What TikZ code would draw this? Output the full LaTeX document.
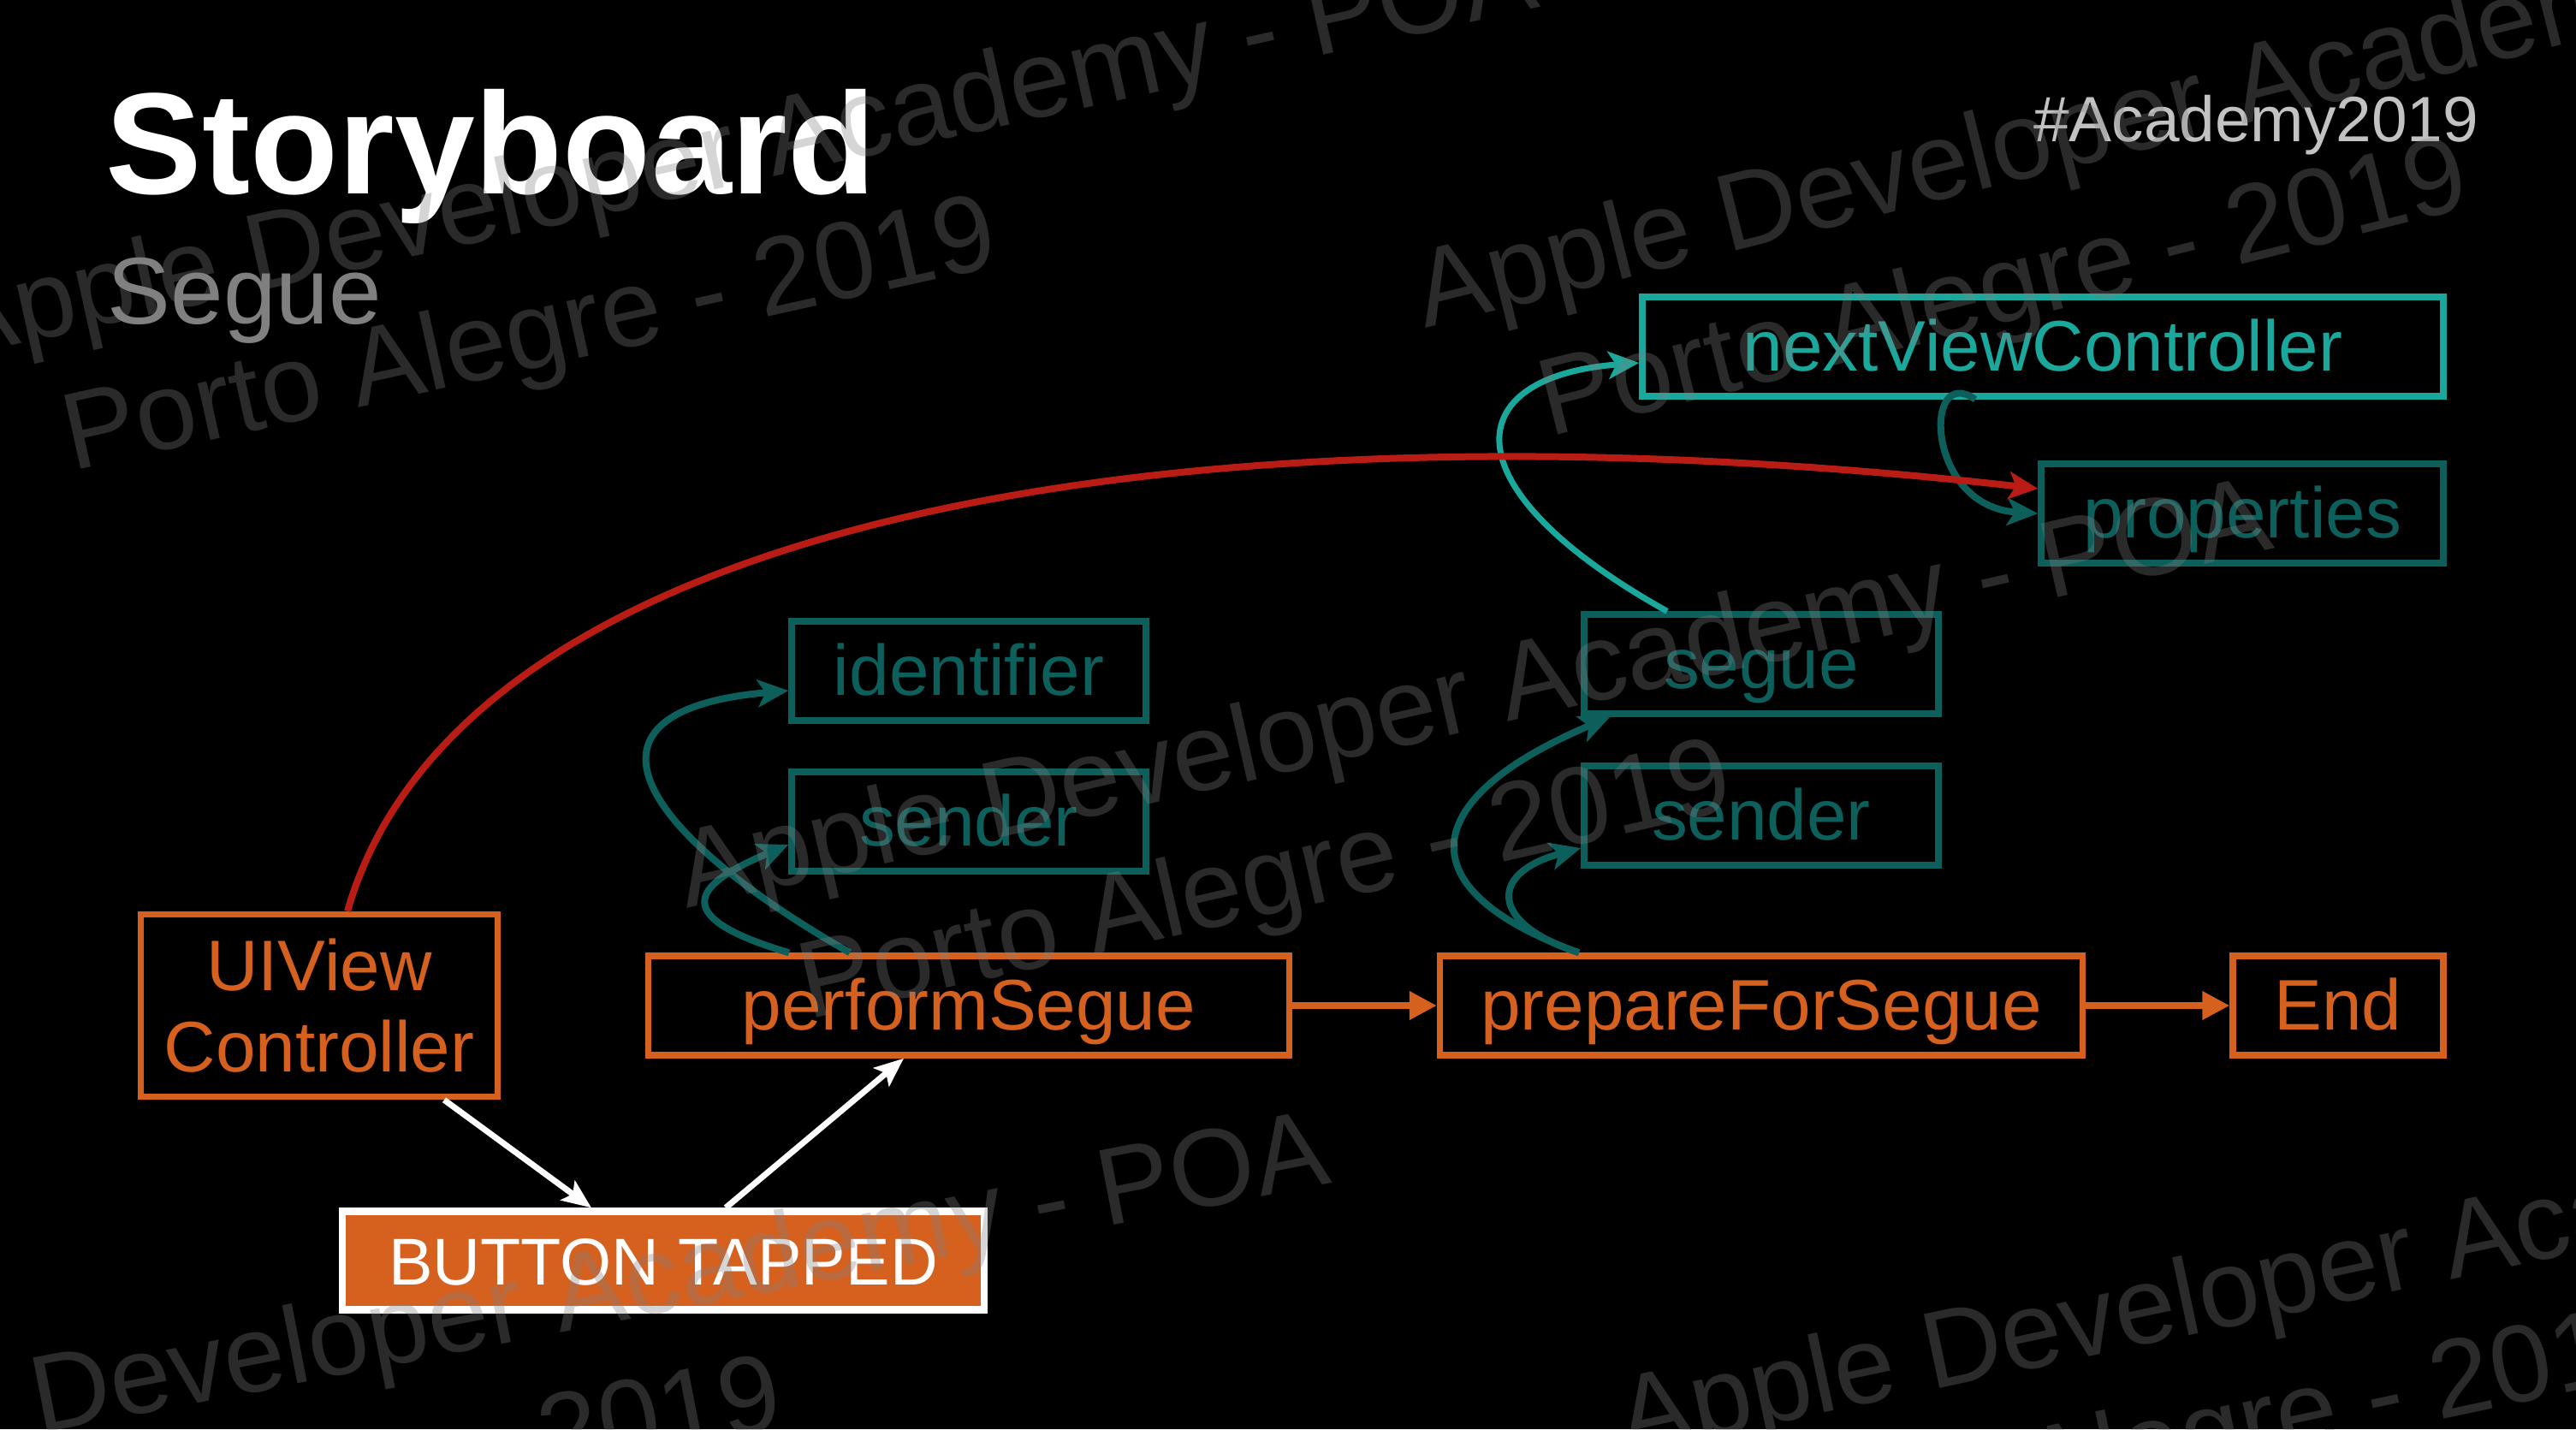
\documentclass[tikz,border=0pt]{standalone}
\usepackage{fontspec}
\setmainfont{Liberation Sans}
\usetikzlibrary{arrows.meta}
\definecolor{segorange}{RGB}{214,96,30}
\definecolor{segteal}{RGB}{13,95,92}
\definecolor{segcyan}{RGB}{26,168,156}
\definecolor{segred}{RGB}{184,28,20}

\begin{document}
\begin{tikzpicture}[
  box/.style={line width=0.75mm, minimum height=1.16cm, inner sep=0pt,
              font=\fontsize{23.8}{27}\selectfont},
  oneline/.style={text height=0.70cm, text depth=0.14cm},
  obox/.style={box, oneline, draw=segorange, text=segorange},
  tbox/.style={box, oneline, draw=segteal, text=segteal},
  cbox/.style={box, oneline, draw=segcyan, text=segcyan},
  oarr/.style={-{Triangle[length=0.32cm,width=0.32cm]}, line width=0.75mm, segorange},
  tarr/.style={-{Stealth[length=0.36cm,width=0.32cm,inset=0.09cm]}, line width=0.8mm, segteal},
  carr/.style={-{Stealth[length=0.36cm,width=0.32cm,inset=0.09cm]}, line width=0.7mm, segcyan},
  rarr/.style={-{Stealth[length=0.34cm,width=0.32cm,inset=0.08cm]}, line width=0.8mm, segred},
  warr/.style={-{Stealth[length=0.34cm,width=0.28cm,inset=0.07cm]}, line width=0.7mm, white},
  wmark/.style={anchor=base west, inner sep=0pt, text=gray, text opacity=0.33,
                font=\fontsize{36.5}{40}\selectfont}
]

%% Slide background
\fill[black] (0,0) rectangle (30.1,-16.7);
\useasboundingbox (0,0) rectangle (30.1,-16.7);

%% Header
\node[anchor=base west, inner sep=0pt, text=white,
      font=\fontsize{48}{50}\selectfont\bfseries] (title) at (1.23,-2.26) {Storyboard};
\node[anchor=base west, inner sep=0pt, text=gray,
      font=\fontsize{31.5}{34}\selectfont] (sub) at (1.25,-3.78) {Segue};
\node[anchor=base east, inner sep=0pt, text=white!76!black,
      font=\fontsize{21.3}{24}\selectfont] (tag) at (28.97,-1.65) {\#Academy2019};

%% Main flow
\node[box, draw=segorange, text=segorange, minimum width=4.17cm, minimum height=2.13cm,
      align=center] (uivc) at (3.73,-11.75) {UIView\\Controller};
\node[obox, minimum width=7.49cm] (perf) at (11.32,-11.75) {performSegue};
\node[obox, minimum width=7.51cm] (prep) at (20.58,-11.75) {prepareForSegue};
\node[obox, minimum width=2.46cm] (endn) at (27.32,-11.75) {End};
\node[box, oneline, draw=white, fill=segorange, text=white, line width=0.85mm,
      minimum width=7.50cm, minimum height=1.15cm,
      font=\fontsize{22}{26}\selectfont] (btn) at (7.75,-14.73) {BUTTON TAPPED};

\draw[oarr] (perf.east) -- (prep.west);
\draw[oarr] (prep.east) -- (endn.west);
\draw[warr] ([xshift=1.46cm]uivc.south) -- ([xshift=-0.84cm]btn.north);
\draw[warr] ([xshift=0.73cm]btn.north) -- ([xshift=-0.76cm]perf.south);

%% Parameters
\foreach \nm/\x/\y/\lab in {ident/11.32/-7.84/identifier, sendl/11.32/-9.60/sender,
                            segue/20.58/-7.76/segue, sendr/20.58/-9.53/sender}{
  \node[tbox, minimum width=4.14cm] (\nm) at (\x,\y) {\lab};
}
\node[cbox, minimum width=9.36cm] (nvc) at (23.87,-4.05) {nextViewController};
\node[tbox, minimum width=4.70cm] (props) at (26.20,-6.00) {properties};

\draw[tarr] ([xshift=-1.39cm]perf.north) .. controls +(-2.53,1.45) and +(-2.63,-0.23) .. ([yshift=-0.23cm]ident.west);
\draw[tarr] ([xshift=-2.10cm]perf.north) .. controls +(-1.52,0.45) and +(-1.02,-0.43) .. ([yshift=-0.27cm]sendl.west);
\draw[tarr] ([xshift=-2.13cm]prep.north) .. controls +(-2.05,0.74) and +(-2.25,-0.95) .. ([xshift=0.34cm]segue.south west);
\draw[tarr] ([xshift=-2.13cm]prep.north) .. controls +(-1.05,0.34) and +(-1.08,-0.29) .. ([yshift=-0.38cm]sendr.west);
\draw[carr] ([xshift=-1.10cm]segue.north) .. controls +(-2.58,1.44) and +(-2.12,-0.16) .. ([yshift=-0.19cm]nvc.west);
\draw[tarr] ([xshift=-0.79cm]nvc.south) .. controls +(-0.61,0.44) and +(-1.32,0.08) .. (props.west);
\draw[rarr] ([xshift=0.33cm]uivc.north) .. controls +(1.34,4.67) and +(-9.82,1.11) .. ([yshift=0.29cm]props.west);

%% Watermark
\foreach \wx/\wy/\wa/\i in {-0.58/-4.20/12.5/1, 16.65/-3.84/14/2, 8.02/-10.62/12.8/3,
                            -3.12/-17.45/11/4, 19.00/-17.00/12/5}{
  \begin{scope}[shift={(\wx,\wy)}, rotate=\wa, transform shape]
    \node[wmark] (wmA\i) at (0,0) {Apple Developer Academy - POA};
    \node[wmark] (wmB\i) at (1.10,-1.58) {Porto Alegre - 2019};
  \end{scope}
}
\end{tikzpicture}
\end{document}
